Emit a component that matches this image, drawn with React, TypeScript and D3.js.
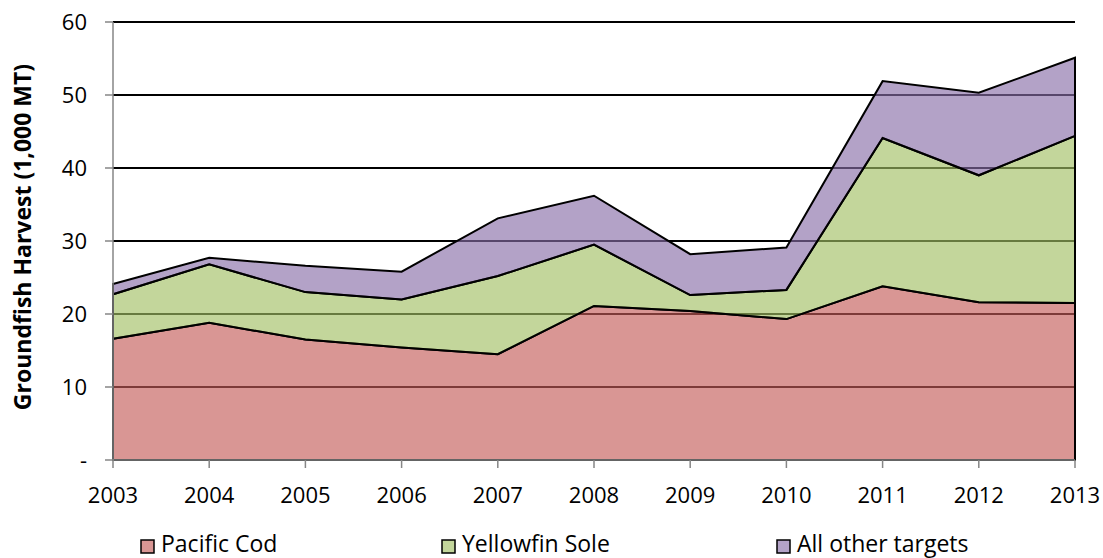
import React from "react";
import * as d3 from "d3";

const years = [2003, 2004, 2005, 2006, 2007, 2008, 2009, 2010, 2011, 2012, 2013];
const pacificCod = [16.6, 18.8, 16.5, 15.4, 14.5, 21.1, 20.4, 19.3, 23.8, 21.6, 21.5];
const yellowfinSole = [6.1, 8.0, 6.5, 6.6, 10.7, 8.4, 2.2, 4.0, 20.3, 17.4, 22.9];
const allOtherTargets = [1.4, 0.9, 3.6, 3.8, 7.9, 6.7, 5.6, 5.8, 7.8, 11.3, 10.7];
const seriesNames = ["Pacific Cod", "Yellowfin Sole", "All other targets"];
const yTicks = [0, 10, 20, 30, 40, 50, 60];
const yTickLabels = ["-", "10", "20", "30", "40", "50", "60"];

const W = 1103;
const H = 558;
const left = 113, right = 1075, top = 22, bottom = 460;
const fillBase = ["rgb(195,91,88)", "rgb(161,191,99)", "rgb(136,110,168)"];
const legendColors = ["#D99694", "#C3D69B", "#B3A2C7"];
const legendX = [140, 441, 776];
const FONT = "'Open Sans', sans-serif";

export default function App() {
  const x = d3.scaleLinear().domain([2003, 2013]).range([left, right]);
  const y = d3.scaleLinear().domain([0, 60]).range([bottom, top]);

  const rows = years.map((yr, i) => ({
    year: yr,
    s0: pacificCod[i],
    s1: yellowfinSole[i],
    s2: allOtherTargets[i],
  }));
  const stacked = d3.stack<any>().keys(["s0", "s1", "s2"])(rows);
  const area = d3
    .area<any>()
    .x((d) => x(d.data.year))
    .y0((d) => y(d[0]))
    .y1((d) => y(d[1]));

  return (
    <svg
      width={W}
      height={H}
      style={{ position: "absolute", left: 0, top: 0, background: "#fff" }}
      fontFamily={FONT}
    >
      {yTicks.filter((t) => t > 0).map((t) => (
        <line key={t} x1={left} x2={right} y1={y(t)} y2={y(t)} stroke="#000" strokeWidth={2} />
      ))}
      {stacked.map((s, i) => (
        <path
          key={i}
          d={area(s) || ""}
          fill={fillBase[i]}
          fillOpacity={0.64}
          stroke="#000"
          strokeWidth={2}
        />
      ))}
      <line x1={left} x2={left} y1={top} y2={bottom} stroke="#868686" strokeWidth={1.5} />
      {yTicks.map((t, i) => (
        <g key={t}>
          <line x1={left - 8} x2={left} y1={y(t)} y2={y(t)} stroke="#868686" strokeWidth={1.5} />
          <text x={87} y={y(t)} dy="0.35em" textAnchor="end" fontSize={22} fill="#000">
            {yTickLabels[i]}
          </text>
        </g>
      ))}
      <line x1={left} x2={right} y1={bottom} y2={bottom} stroke="#868686" strokeWidth={1.5} />
      {years.map((yr) => (
        <g key={yr}>
          <line x1={x(yr)} x2={x(yr)} y1={bottom} y2={bottom + 8} stroke="#868686" strokeWidth={1.5} />
          <text x={x(yr)} y={503} textAnchor="middle" fontSize={22} fill="#000">
            {yr}
          </text>
        </g>
      ))}
      <text
        transform={`translate(31,237) rotate(-90)`}
        textAnchor="middle"
        fontSize={23}
        fontWeight="bold"
        fill="#000"
      >
        Groundfish Harvest (1,000 MT)
      </text>
      {seriesNames.map((n, i) => (
        <g key={n}>
          <rect x={legendX[i] + 1} y={540} width={13} height={13} fill={legendColors[i]} stroke="#000" strokeWidth={1.5} />
          <text x={legendX[i] + 21} y={552} fontSize={23} fill="#000">
            {n}
          </text>
        </g>
      ))}
    </svg>
  );
}
